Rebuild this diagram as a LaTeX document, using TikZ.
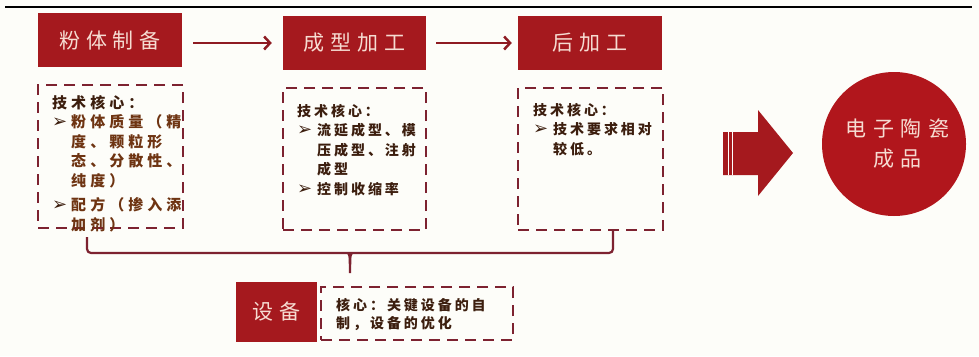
\documentclass[tikz,border=0pt]{standalone}
\usepackage{fontspec}
\usetikzlibrary{arrows.meta,calc}
\newfontfamily\cjkT[LetterSpace=28]{Noto Sans CJK SC}
\newfontfamily\cjkC[LetterSpace=33]{Noto Sans CJK SC}
\newfontfamily\cjkA[LetterSpace=27]{Noto Sans CJK SC}
\newfontfamily\cjkB[LetterSpace=21]{Noto Sans CJK SC}
\newfontfamily\symf{DejaVu Sans}
\definecolor{redfill}{HTML}{A5191E}
\definecolor{circred}{HTML}{B1161C}
\definecolor{titletxt}{HTML}{F6DCD2}
\definecolor{dashcol}{HTML}{7D2230}
\definecolor{arrcol}{HTML}{8E1B22}
\definecolor{txtdark}{HTML}{3C1E0E}
\definecolor{txtorange}{HTML}{6E3412}
\definecolor{bgcol}{HTML}{FDFDF9}
\newcommand{\blA}{\makebox[19pt][l]{\symf\bfseries\fontsize{18}{14}\selectfont ➢}}
\newcommand{\indA}{\hspace*{19pt}}
\newcommand{\blB}{\makebox[20pt][l]{\symf\bfseries\fontsize{18}{14}\selectfont ➢}}
\newcommand{\indB}{\hspace*{20pt}}
\tikzset{
  titlebox/.style={fill=redfill, draw=none, text=titletxt, inner sep=0pt,
    font=\cjkT\fontsize{21}{24}\selectfont},
  dashbox/.style={draw=dashcol, line width=2.5pt, dash pattern=on 11pt off 7pt,
    inner sep=0pt, fill=none},
  txtA/.style={inner sep=0pt, anchor=north west, align=left, text=txtdark,
    font=\cjkA\bfseries\fontsize{15}{19.5}\selectfont},
  txtB/.style={inner sep=0pt, anchor=north west, align=left, text=txtdark,
    font=\cjkB\bfseries\fontsize{14}{19.5}\selectfont},
  flow/.style={draw=arrcol, line width=2.5pt, -{Straight Barb[length=6pt,width=13pt]}},
  brk/.style={draw=dashcol, line width=2.2pt, rounded corners=4pt}
}
\begin{document}
\begin{tikzpicture}[x=1pt,y=-1pt]
\fill[bgcol] (0,0) rectangle (979,356);
\useasboundingbox (0,0) rectangle (979,356);
% top rule
\draw[black, line width=2.5pt] (5,7) -- (972,7);
% title boxes
\node[titlebox, minimum width=144pt, minimum height=54pt] (b1) at (110,40) {粉体制备};
\node[titlebox, minimum width=143pt, minimum height=54pt] (b2) at (354.5,43) {成型加工};
\node[titlebox, minimum width=144pt, minimum height=54pt] (b3) at (590,43) {后加工};
\node[titlebox, minimum width=81pt, minimum height=60pt] (be) at (276.5,312) {设备};
% arrows between steps
\draw[flow, shorten <=11pt, shorten >=11pt] (b2.west -| b1.east) -- (b2.west);
\draw[flow, shorten <=10pt, shorten >=6pt] (b2.east) -- (b3.west);
% dashed boxes
\node[dashbox, minimum width=145pt, minimum height=143pt] (d1) at (110.5,156.5) {};
\node[dashbox, minimum width=143pt, minimum height=142pt] (d2) at (354.5,159) {};
\node[dashbox, minimum width=145pt, minimum height=142pt] (d3) at (590.5,159) {};
\node[dashbox, minimum width=192pt, minimum height=53pt] (de) at (417,313.5) {};
% texts
\node[txtA] (t1) at (52,95) {技术核心：\\
\blA {\color{txtorange}粉体质量（精}\\
\indA {\color{txtorange}度、颗粒形}\\
\indA {\color{txtorange}态、分散性、}\\
\indA {\color{txtorange}纯度）}\\[5pt]
\blA {\color{txtorange}配方（掺入添}\\
\indA {\color{txtorange}加剂）}};
\node[txtB] (t2) at (297,104) {技术核心：\\
\blB 流延成型、模\\
\indB 压成型、注射\\
\indB 成型\\
\blB 控制收缩率};
\node[txtB] (t3) at (533,103) {技术核心：\\
\blB 技术要求相对\\
\indB 较低。};
\node[txtB, font=\cjkB\bfseries\fontsize{14}{18}\selectfont] (te) at (336,298) {核心：关键设备的自\\制，设备的优化};
% bracket
\coordinate (bl) at (87,237);
\coordinate (bm) at (350,253);
\coordinate (br) at (613,230);
\coordinate (tk) at (350,273);
\draw[brk] (bl) |- (bm) -| (br);
\fill[dashcol] ($(bm)+(-4.5,-1)$) -- ($(bm)+(4.5,-1)$) .. controls ($(bm)+(1.5,2)$) .. ($(bm)+(1.3,8)$)
  -- ($(tk)+(1.1,0)$) -- ($(tk)+(-1.1,0)$) -- ($(bm)+(-1.3,8)$) .. controls ($(bm)+(-1.5,2)$) .. cycle;
% big arrow
\fill[redfill] (723,132) -- (758,132) -- (758,110) -- (793,153) -- (758,196) -- (758,175) -- (723,175) -- cycle;
\draw[white, line width=1.3pt] (728.5,132) -- (728.5,175);
\draw[white, line width=1.3pt] (732.5,132) -- (732.5,175);
% result circle
\node[circle, fill=circred, minimum size=144pt, inner sep=0pt, text=titletxt, align=center,
  font=\cjkC\fontsize{21}{30}\selectfont] (c) at (894,144) {\hspace*{7pt}电子陶瓷\\[0pt]\hspace*{7pt}成品};
\end{tikzpicture}
\end{document}
